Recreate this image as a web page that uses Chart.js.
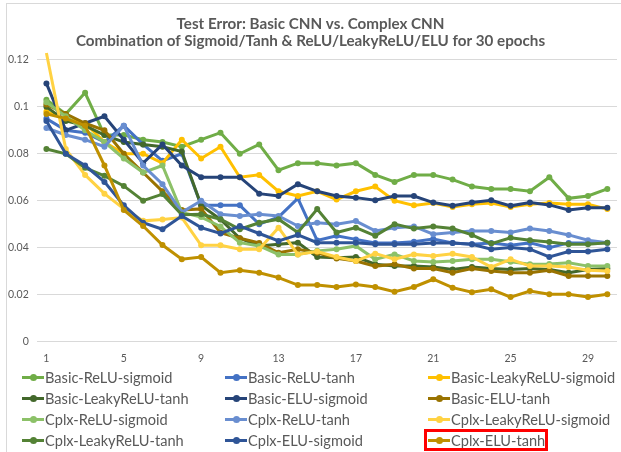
<!DOCTYPE html>
<html>
<head>
<meta charset="utf-8">
<script src="https://cdn.jsdelivr.net/npm/chart.js@4.4.1/dist/chart.umd.min.js"></script>
<style>
  html, body { margin: 0; padding: 0; background: #fff; }
  #wrap { position: relative; width: 621px; height: 452px; overflow: hidden; font-family: Lato, "Open Sans", sans-serif; }
  #frame { position: absolute; left: 6px; top: 3px; width: 640px; height: 470px; border-left: 1px solid #d9d9d9; border-top: 1px solid #d9d9d9; }
  canvas { position: absolute; left: 0; top: 0; }
  .item { position: absolute; display: flex; align-items: center; font-size: 14.6px; color: #595959; white-space: nowrap; height: 20px; }
  .mark { position: relative; width: 22px; height: 3px; margin-right: 1px; }
  .mark i { position: absolute; left: 8px; top: -2px; width: 7px; height: 7px; border-radius: 50%; }
  #redbox { position: absolute; left: 424px; top: 429px; width: 124px; height: 22px; border: 3px solid #ff0000; box-sizing: border-box; }
</style>
</head>
<body>
<div id="wrap">
  <div id="frame"></div>
  <canvas id="chart" width="621" height="452"></canvas>
  <div id="legend"></div>
  <div id="redbox"></div>
</div>
<script>
// epochs on the x axis
const epochs = ["1","2","3","4","5","6","7","8","9","10","11","12","13","14","15",
  "16","17","18","19","20","21","22","23","24","25","26","27","28","29","30"];

const seriesNames = [
  "Basic-ReLU-sigmoid", "Basic-ReLU-tanh", "Basic-LeakyReLU-sigmoid",
  "Basic-LeakyReLU-tanh", "Basic-ELU-sigmoid", "Basic-ELU-tanh",
  "Cplx-ReLU-sigmoid", "Cplx-ReLU-tanh", "Cplx-LeakyReLU-sigmoid",
  "Cplx-LeakyReLU-tanh", "Cplx-ELU-sigmoid", "Cplx-ELU-tanh"
];

const seriesColors = [
  "#70AD47", "#4472C4", "#FFC000",
  "#43682B", "#264478", "#997300",
  "#8CC168", "#698ED0", "#FFD243",
  "#548235", "#2F5597", "#BF9000"
];

// test error per epoch
const basicReluSigmoid = [0.103,0.097,0.106,0.088,0.088,0.086,0.085,0.083,0.086,0.089,0.080,0.084,0.073,0.076,0.076,0.075,0.076,0.071,0.068,0.071,0.071,0.069,0.066,0.065,0.065,0.064,0.070,0.061,0.062,0.065];
const basicReluTanh = [0.095,0.090,0.089,0.085,0.092,0.084,0.077,0.080,0.058,0.058,0.058,0.050,0.053,0.061,0.043,0.045,0.0435,0.042,0.042,0.0425,0.0437,0.042,0.0414,0.042,0.041,0.042,0.040,0.042,0.042,0.042];
const basicLeakySigmoid = [0.098,0.095,0.093,0.085,0.080,0.080,0.076,0.086,0.078,0.083,0.070,0.071,0.064,0.062,0.064,0.0605,0.064,0.066,0.060,0.058,0.059,0.0573,0.0585,0.059,0.0573,0.0585,0.059,0.0585,0.0585,0.0564];
const basicLeakyTanh = [0.100,0.094,0.092,0.088,0.085,0.084,0.083,0.081,0.058,0.052,0.044,0.0407,0.0414,0.0421,0.036,0.0357,0.036,0.0329,0.0321,0.0321,0.0317,0.0307,0.0317,0.0311,0.0307,0.0311,0.0307,0.0293,0.0307,0.0311];
const basicEluSigmoid = [0.110,0.090,0.093,0.096,0.086,0.076,0.084,0.075,0.070,0.070,0.070,0.063,0.062,0.067,0.064,0.062,0.0613,0.0602,0.062,0.062,0.0592,0.0578,0.0592,0.0602,0.0578,0.0592,0.0582,0.056,0.057,0.057];
const basicEluTanh = [0.101,0.097,0.093,0.090,0.080,0.072,0.064,0.056,0.0565,0.0464,0.044,0.042,0.0378,0.0393,0.0378,0.0354,0.0343,0.0321,0.0329,0.0311,0.0311,0.0293,0.0311,0.030,0.0293,0.0293,0.0303,0.0279,0.0279,0.0279];
const cplxReluSigmoid = [0.102,0.096,0.090,0.085,0.078,0.072,0.075,0.055,0.053,0.049,0.0421,0.0407,0.0371,0.0371,0.0386,0.0393,0.0407,0.035,0.0371,0.0343,0.0339,0.0343,0.035,0.035,0.034,0.0329,0.033,0.0335,0.0321,0.0321];
const cplxReluTanh = [0.091,0.088,0.086,0.083,0.092,0.075,0.067,0.055,0.060,0.0542,0.0535,0.0542,0.0535,0.0492,0.0506,0.050,0.0513,0.0471,0.0485,0.049,0.0457,0.0464,0.0471,0.0471,0.0464,0.0481,0.0471,0.0454,0.0431,0.0421];
const cplxLeakySigmoid = [0.123,0.082,0.071,0.063,0.0565,0.0514,0.052,0.0528,0.041,0.041,0.0393,0.0393,0.0485,0.0371,0.0383,0.036,0.0343,0.0374,0.035,0.0371,0.0364,0.0374,0.036,0.0317,0.035,0.0321,0.0321,0.0317,0.0303,0.030];
const cplxLeakyTanh = [0.082,0.080,0.074,0.0706,0.0663,0.060,0.0628,0.054,0.0542,0.0521,0.0478,0.0506,0.0521,0.0464,0.0564,0.0464,0.0485,0.045,0.050,0.0481,0.049,0.0481,0.0454,0.0417,0.0442,0.0431,0.0424,0.0414,0.0414,0.0421];
const cplxEluSigmoid = [0.094,0.080,0.075,0.068,0.058,0.0506,0.0478,0.0535,0.0485,0.046,0.0492,0.046,0.0428,0.0454,0.0421,0.0421,0.0421,0.0414,0.0414,0.0414,0.042,0.042,0.0414,0.0393,0.040,0.0393,0.036,0.0383,0.0383,0.0393];
const cplxEluTanh = [0.097,0.095,0.092,0.075,0.056,0.0492,0.0411,0.035,0.036,0.0293,0.0303,0.0293,0.0272,0.024,0.024,0.0232,0.0243,0.0232,0.0212,0.0232,0.0265,0.0229,0.021,0.0222,0.0189,0.0215,0.0201,0.0201,0.0189,0.0201];

const seriesValues = [
  basicReluSigmoid, basicReluTanh, basicLeakySigmoid,
  basicLeakyTanh, basicEluSigmoid, basicEluTanh,
  cplxReluSigmoid, cplxReluTanh, cplxLeakySigmoid,
  cplxLeakyTanh, cplxEluSigmoid, cplxEluTanh
];

const datasets = seriesNames.map((name, i) => ({
  label: name,
  data: seriesValues[i],
  borderColor: seriesColors[i],
  backgroundColor: seriesColors[i],
  pointBackgroundColor: seriesColors[i],
  borderWidth: 3,
  pointRadius: 3,
  pointBorderWidth: 0,
  tension: 0,
  clip: false,
  order: seriesNames.length - i // excel puts the last series on top
}));

const chart = new Chart(document.getElementById("chart"), {
  type: "line",
  data: { labels: epochs, datasets: datasets },
  options: {
    responsive: false,
    animation: false,
    layout: { padding: { left: 0, right: 0, top: 0, bottom: 84 } },
    plugins: {
      legend: { display: false },
      tooltip: { enabled: false },
      title: {
        display: true,
        text: ["Test Error: Basic CNN vs. Complex CNN",
               "Combination of Sigmoid/Tanh & ReLU/LeakyReLU/ELU for 30 epochs"],
        color: "#595959",
        font: { family: "Lato", size: 15.2, weight: "bold", lineHeight: 1.15 },
        padding: { top: 15, bottom: 10 }
      }
    },
    scales: {
      x: {
        offset: true,
        grid: { display: false },
        border: { display: false },
        ticks: {
          autoSkip: false,
          maxRotation: 0,
          color: "#595959",
          font: { family: "Lato", size: 10.5 },
          padding: 3,
          callback: function (v, i) { return i % 4 === 0 ? this.getLabelForValue(v) : ""; }
        }
      },
      y: {
        min: 0,
        max: 0.12,
        grid: { color: "#d9d9d9", drawTicks: false },
        border: { display: false },
        ticks: {
          stepSize: 0.02,
          color: "#595959",
          font: { family: "Lato", size: 10.5 },
          padding: 8,
          callback: v => String(Number(v.toFixed(2)))
        }
      }
    }
  }
});

// legend laid out in 3 columns like the excel one
const legend = document.getElementById("legend");
const colX = [22, 225, 428];
const rowY = [377, 398, 419, 440];
chart.data.datasets.forEach((ds, i) => {
  const item = document.createElement("div");
  item.className = "item";
  item.style.left = colX[i % 3] + "px";
  item.style.top = (rowY[Math.floor(i / 3)] - 10) + "px";
  item.innerHTML = '<span class="mark" style="background:' + ds.borderColor + '"><i style="background:' +
    ds.borderColor + '"></i></span>' + ds.label;
  legend.appendChild(item);
});
</script>
</body>
</html>
